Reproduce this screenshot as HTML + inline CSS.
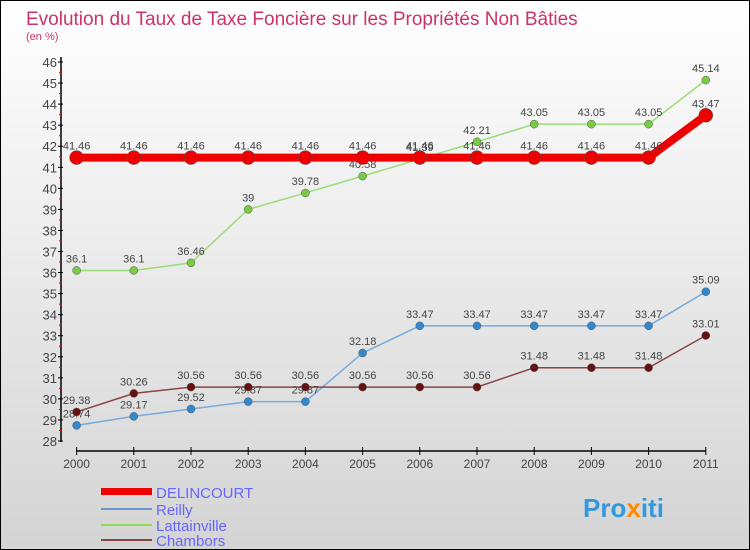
<!DOCTYPE html>
<html><head><meta charset="utf-8"><style>
body{margin:0}
#c{position:relative;width:750px;height:550px;box-sizing:border-box;border:1px solid #000;background:linear-gradient(#ffffff,#d4d4d4);font-family:"Liberation Sans",sans-serif;overflow:hidden}
</style></head><body>
<div id="c">
<svg width="750" height="550" style="position:absolute;left:0;top:0" id="s">
<text x="25" y="24" font-size="19" fill="#cc3366">Evolution du Taux de Taxe Foncière sur les Propriétés Non Bâties</text>
<text x="25" y="39" font-size="11" fill="#cc3366">(en %)</text>
<g id="axes"></g><g id="series"></g>
<g>
<rect x="100" y="487" width="51" height="7" fill="#ee0000"/>
<text x="155" y="497" font-size="15" fill="#6666ff">DELINCOURT</text>
<rect x="100" y="507" width="51" height="2" fill="#6699cc"/>
<text x="155" y="514" font-size="15" fill="#6666ff">Reilly</text>
<rect x="100" y="523" width="51" height="2" fill="#88dd55"/>
<text x="155" y="530" font-size="15" fill="#6666ff">Lattainville</text>
<rect x="100" y="538" width="51" height="2" fill="#884444"/>
<text x="155" y="545" font-size="15" fill="#6666ff">Chambors</text>
</g>
<text x="582" y="516" font-size="26" font-weight="bold" fill="#3399dd">Pro<tspan fill="#ff8800">x</tspan>iti</text>
</svg>
</div>
<script>
const years=["2000","2001","2002","2003","2004","2005","2006","2007","2008","2009","2010","2011"];
const delincourt=[41.46,41.46,41.46,41.46,41.46,41.46,41.46,41.46,41.46,41.46,41.46,43.47];
const reilly=[28.74,29.17,29.52,29.87,29.87,32.18,33.47,33.47,33.47,33.47,33.47,35.09];
const lattainville=[36.1,36.1,36.46,39,39.78,40.58,41.39,42.21,43.05,43.05,43.05,45.14];
const chambors=[29.38,30.26,30.56,30.56,30.56,30.56,30.56,30.56,31.48,31.48,31.48,33.01];
const yTicks=[28,29,30,31,32,33,34,35,36,37,38,39,40,41,42,43,44,45,46];
const NS="http://www.w3.org/2000/svg";
const xs=i=>75.6+i*57.2;
const ys=v=>440-(v-28)*(379/18);
function mk(tag,attrs,parent){const e=document.createElementNS(NS,tag);for(const k in attrs)e.setAttribute(k,attrs[k]);parent.appendChild(e);return e;}
const ax=document.getElementById('axes');
let yl=mk('line',{x1:60,y1:56,x2:60,y2:441,stroke:'#000','stroke-width':1.5},ax);


yTicks.forEach(t=>{
 mk('line',{x1:57,x2:62,y1:ys(t),y2:ys(t),stroke:'#000'},ax);
 if(t<46)mk('line',{x1:58,x2:61,y1:ys(t+0.5),y2:ys(t+0.5),stroke:'#e00'},ax);
 const tx=mk('text',{x:56,y:ys(t)+5,'font-size':13,fill:'#444','text-anchor':'end'},ax);
 tx.textContent=t;
 
 
});
let xl=mk('line',{x1:75.6,y1:450,x2:xs(11),y2:450,stroke:'#000','stroke-width':1.5},ax);


years.forEach((y,i)=>{
 mk('line',{x1:xs(i),x2:xs(i),y1:446,y2:454,stroke:'#000'},ax);
 const tx=mk('text',{x:xs(i),y:467,'font-size':12,fill:'#444','text-anchor':'middle'},ax);
 tx.textContent=y;
 
 
});
const sg=document.getElementById('series');
function series(name,vals,color,w,r,dot){
 const g=mk('g',{},sg);
 
 
 const pl=mk('polyline',{points:vals.map((v,i)=>xs(i)+','+ys(v)).join(' '),fill:'none',stroke:color,'stroke-width':w},g);
 
 
 vals.forEach((v,i)=>{
  const c=mk('circle',{cx:xs(i),cy:ys(v),r:r,fill:dot,stroke:'#555','stroke-width':0.5},g);
  
  
  const t=mk('text',{x:xs(i),y:ys(v)-8,'font-size':11,fill:'#444','text-anchor':'middle'},g);
  t.textContent=v;
  
  
 });
}
series('reilly',reilly,'#77aadd',1.5,4,'#3388cc');
series('lattainville',lattainville,'#99dd77',1.5,4,'#77cc44');
series('chambors',chambors,'#884444',1.5,4,'#661111');
series('delincourt',delincourt,'#ee0000',8,7,'#ee0000');
</script>
</body></html>
